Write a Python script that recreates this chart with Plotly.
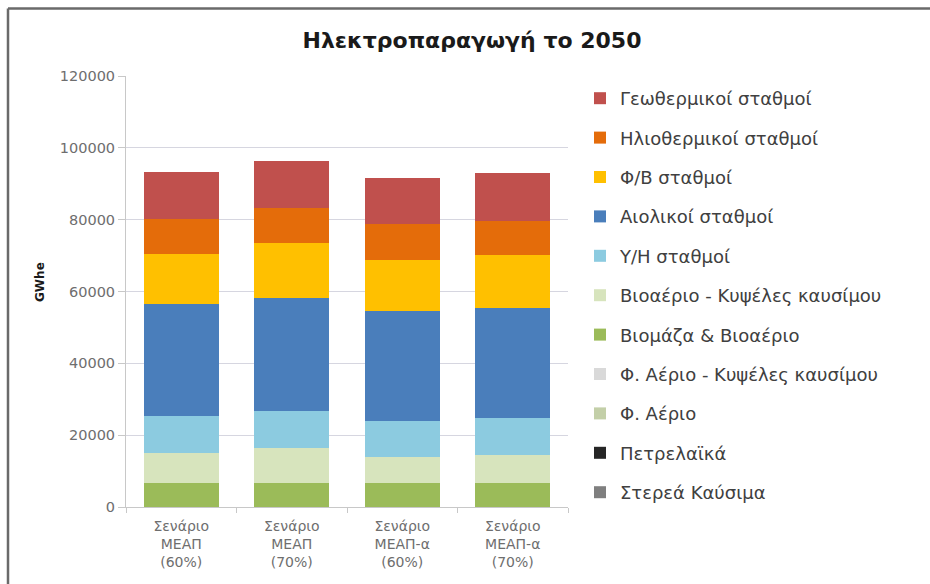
import plotly.graph_objects as go

# Scenarios on the x axis
scenarios = [
    "Σενάριο<br>ΜΕΑΠ<br>(60%)",
    "Σενάριο<br>ΜΕΑΠ<br>(70%)",
    "Σενάριο<br>ΜΕΑΠ-α<br>(60%)",
    "Σενάριο<br>ΜΕΑΠ-α<br>(70%)",
]

# Electricity generation in 2050 (GWhe), per source
stereá = [0, 0, 0, 0]
petrelaika = [0, 0, 0, 0]
fysiko_aerio = [0, 0, 0, 0]
fa_kypseles = [0, 0, 0, 0]
viomaza = [6800, 6800, 6600, 6600]
vioaerio_kypseles = [8100, 9500, 7400, 7900]
yh = [10400, 10400, 10000, 10200]
aiolika = [31200, 31500, 30500, 30600]
fv = [13900, 15300, 14400, 14800]
iliothermika = [9700, 9800, 10000, 9500]
geothermika = [13200, 12900, 12700, 13300]

y_ticks = [0, 20000, 40000, 60000, 80000, 100000, 120000]

# Stack order from the bottom up
series = [
    ("Στερεά Καύσιμα", stereá, "#7f7f7f"),
    ("Πετρελαϊκά", petrelaika, "#262626"),
    ("Φ. Αέριο", fysiko_aerio, "#c3cfa8"),
    ("Φ. Αέριο - Κυψέλες καυσίμου", fa_kypseles, "#d9d9d9"),
    ("Βιομάζα & Βιοαέριο", viomaza, "#9bbb59"),
    ("Βιοαέριο - Κυψέλες καυσίμου", vioaerio_kypseles, "#d7e4bd"),
    ("Υ/Η σταθμοί", yh, "#8ccbe0"),
    ("Αιολικοί σταθμοί", aiolika, "#4a7ebb"),
    ("Φ/Β σταθμοί", fv, "#ffc000"),
    ("Ηλιοθερμικοί σταθμοί", iliothermika, "#e46c0a"),
    ("Γεωθερμικοί σταθμοί", geothermika, "#c0504d"),
]

fig = go.Figure()
n = len(series)
for i, (name, vals, color) in enumerate(series):
    fig.add_trace(go.Bar(
        x=scenarios, y=vals, name=name,
        marker=dict(color=color, line=dict(width=0)),
        legendgroup=f"g{i}",
        legendrank=n - i,  # top of the stack first in the legend
    ))

W, H = 930, 584
L, R, T, B = 126, 362, 76, 77
pw, ph = W - L - R, H - T - B

def px_x(p):
    return (p - L) / pw

def px_y(p):
    return (H - B - p) / ph

gray_text = "#6e6e6e"
font_family = "DejaVu Sans"

fig.update_layout(
    width=W, height=H,
    margin=dict(l=L, r=R, t=T, b=B, pad=0),
    barmode="stack",
    bargap=0.32,
    paper_bgcolor="white",
    plot_bgcolor="white",
    font=dict(family=font_family, color=gray_text),
    title=dict(
        text="<b>Ηλεκτροπαραγωγή το 2050</b>",
        x=472 / W, xanchor="center", xref="container",
        y=1 - 40 / H, yanchor="middle", yref="container",
        font=dict(family=font_family, size=22, color="#1a1a1a"),
    ),
    xaxis=dict(
        tickfont=dict(size=14, color=gray_text),
        showline=True, linecolor="#c8c8c8", linewidth=1,
        ticks="outside", ticklen=5, tickcolor="#c8c8c8",
        tickson="boundaries",
        ticklabelstandoff=6,
        showgrid=False,
    ),
    yaxis=dict(
        range=[0, 120000],
        tickvals=y_ticks,
        tickformat="d",
        tickfont=dict(size=14.5, color=gray_text),
        showline=True, linecolor="#c8c8c8", linewidth=1,
        ticks="outside", ticklen=7, tickcolor="#c8c8c8",
        showgrid=True, gridcolor="#d6d6e0", gridwidth=1,
        zeroline=False,
    ),
    legend=dict(
        x=px_x(580), y=px_y(80), xanchor="left", yanchor="top",
        traceorder="grouped",
        tracegroupgap=13,
        font=dict(family=font_family, size=18, color="#404040"),
        itemwidth=30,
        maxheight=1.0,
        bgcolor="rgba(0,0,0,0)",
    ),
    showlegend=True,
)

# Y-axis title
fig.add_annotation(
    text="<b>GWhe</b>", textangle=-90,
    xref="paper", yref="paper",
    x=px_x(40), y=px_y(282), xanchor="center", yanchor="middle",
    showarrow=False,
    font=dict(family=font_family, size=12, color="#1a1a1a"),
)

# Chart frame edges along the top and left
fig.add_shape(type="line", xref="paper", yref="paper",
              x0=px_x(8), x1=px_x(940), y0=px_y(8.5), y1=px_y(8.5),
              line=dict(color="#6a6a6a", width=2.5))
fig.add_shape(type="line", xref="paper", yref="paper",
              x0=px_x(8), x1=px_x(8), y0=px_y(8.5), y1=px_y(600),
              line=dict(color="#6a6a6a", width=2.5))

fig.write_html("out.html")
